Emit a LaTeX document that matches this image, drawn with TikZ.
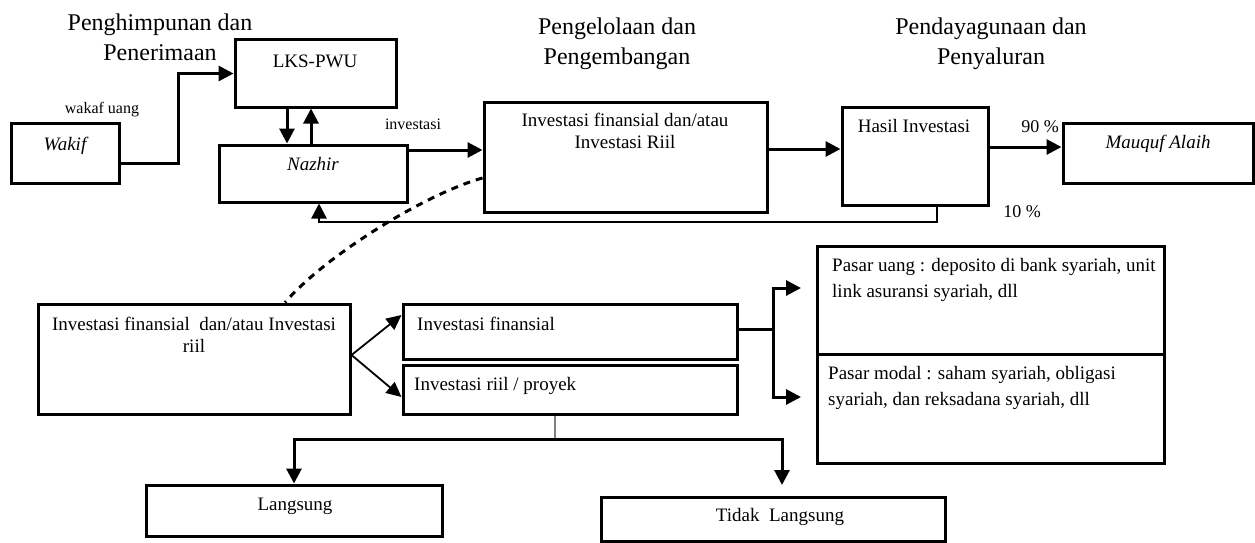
\documentclass[tikz,border=0pt]{standalone}
\usepackage{fontspec}
\setmainfont{Liberation Serif}
\usetikzlibrary{arrows.meta}
\begin{document}
\begin{tikzpicture}[x=1pt,y=-1pt,
  box/.style={draw, line width=3pt, inner sep=0pt},
  arr/.style={line width=3pt, -{Triangle[length=15pt,width=15pt]}},
  fb/.style={line width=2.4pt, -{Triangle[length=15pt,width=15pt]}},
  thinarr/.style={line width=1.8pt, -{Triangle[length=15pt,width=14pt]}},
  conn/.style={line width=3pt},
  dashline/.style={line width=3pt, dash pattern=on 7pt off 6pt},
  txt/.style={inner sep=0pt, anchor=base, font=\fontsize{19}{22}\selectfont},
  ittxt/.style={inner sep=0pt, anchor=base, font=\fontsize{19}{22}\selectfont\itshape},
  lbl/.style={inner sep=0pt, anchor=base, font=\fontsize{16}{19}\selectfont},
  pct/.style={inner sep=0pt, anchor=base, font=\fontsize{18}{21}\selectfont},
  ttl/.style={inner sep=0pt, anchor=base, align=center, font=\fontsize{24}{29}\selectfont},
  mkt/.style={inner sep=0pt, anchor=base west, align=left, font=\fontsize{19}{26}\selectfont}
]
\useasboundingbox (0,0) rectangle (1255,543);

% titles (base = baseline of last line)
\node[ttl] (t1) at (160,60) {Penghimpunan dan\\Penerimaan};
\node[ttl] (t2) at (617,64) {Pengelolaan dan\\Pengembangan};
\node[ttl] (t3) at (991,64) {Pendayagunaan dan\\Penyaluran};

% top row boxes
\node[box, minimum width=108pt, minimum height=60pt] (wakif) at (65,153) {};
\node[ittxt] (twakif) at (65,150) {Wakif};
\node[lbl] (twakaf) at (102,113) {wakaf uang};
\node[box, minimum width=161pt, minimum height=67pt] (lks) at (315.5,73.5) {};
\node[txt] (tlks) at (315,67) {LKS-PWU};
\node[box, minimum width=188pt, minimum height=57pt] (nazhir) at (313,173.5) {};
\node[ittxt] (tnazhir) at (313,170) {Nazhir};
\node[lbl] (tinv) at (413,129) {investasi};
\node[box, minimum width=283pt, minimum height=110pt] (invtop) at (625.5,157) {};
\node[txt, align=center] (tinvtop) at (625,148) {Investasi finansial dan/atau\\Investasi Riil};
\node[box, minimum width=146pt, minimum height=98pt] (hasil) at (915,156) {};
\node[txt] (thasil) at (914,132) {Hasil Investasi};
\node[box, minimum width=190pt, minimum height=60pt] (mauquf) at (1158,153) {};
\node[ittxt] (tmauquf) at (1158,148) {Mauquf Alaih};
\node[pct] (p90) at (1040,132) {90 \%};
\node[pct] (p10) at (1022,217) {10 \%};

% lower boxes
\node[box, minimum width=312pt, minimum height=110pt] (invleft) at (194,359) {};
\node[txt, align=center] (tinvleft) at (194,352) {Investasi finansial\ \ dan/atau Investasi\\riil};
\node[box, minimum width=334pt, minimum height=55pt] (invfin) at (570,331.5) {};
\node[txt, anchor=base west] (tinvfin) at (417,330) {Investasi finansial};
\node[box, minimum width=334pt, minimum height=49pt] (invriil) at (570,389.5) {};
\node[txt, anchor=base west] (tinvriil) at (414,390) {Investasi riil / proyek};
\node[box, minimum width=347pt, minimum height=108pt] (uang) at (990.5,300) {};
\node[box, minimum width=347pt, minimum height=109pt] (modal) at (990.5,408.5) {};
\node[mkt] (tuang) at (832,297) {Pasar uang : deposito di bank syariah, unit\\link asuransi syariah, dll};
\node[mkt] (tmodal) at (828,405) {Pasar modal : saham syariah, obligasi\\syariah, dan reksadana syariah, dll};
\node[box, minimum width=296pt, minimum height=51pt] (langsung) at (294,510.5) {};
\node[txt] (tlangsung) at (295,510) {Langsung};
\node[box, minimum width=344pt, minimum height=44pt] (tidak) at (773,519) {};
\node[txt] (ttidak) at (780,521) {Tidak\ \ Langsung};

% top connectors
\draw[arr] ([yshift=-10pt]wakif.east) -- ++(58,0) |- (lks.west);
\draw[arr] (lks.south -| 287,0) -- (nazhir.north -| 287,0);
\draw[arr] (nazhir.north -| 311,0) -- (lks.south -| 311,0);
\draw[arr] (nazhir.east |- 0,150) -- (invtop.west |- 0,150);
\draw[arr] (invtop.east |- 0,149) -- (hasil.west |- 0,149);
\draw[arr] (hasil.east |- 0,147) -- (mauquf.west |- 0,147);
\draw[fb] (hasil.south -| 937,0) -- (937,222) -| (nazhir.south -| 319,0);

% dashed link
\draw[dashline] (invtop.west |- 0,178) .. controls (425,194) and (325,256) .. (invleft.north -| 285,0);

% fork
\draw[thinarr] (invleft.east |- 0,355) -- (invfin.west |- 0,315);
\draw[thinarr] (invleft.east |- 0,355) -- (invriil.west |- 0,397);

% financial branch
\coordinate (bj) at (773,329);
\coordinate (bt) at (773,288);
\coordinate (bb) at (773,397);
\coordinate (et) at (801,288);
\coordinate (eb) at (801,397);
\draw[conn] (invfin.east |- bj) -- (bj);
\draw[conn] (bt) -- (bb);
\draw[arr] ([xshift=-1.5pt]bt) -- (et);
\draw[arr] ([xshift=-1.5pt]bb) -- (eb);

% real branch
\coordinate (bj2) at (555,439);
\coordinate (te) at (782,485);
\draw[gray, line width=1.8pt] (invriil.south -| bj2) -- (bj2);
\draw[arr] (bj2) -| (langsung.north);
\draw[arr] (bj2) -| (te);
\end{tikzpicture}
\end{document}
